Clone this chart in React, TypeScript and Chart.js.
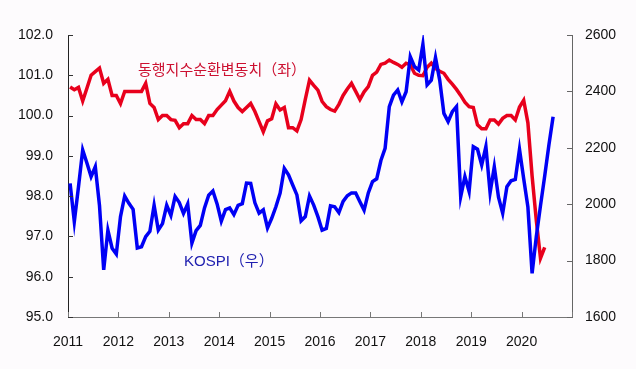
import React, { useEffect, useRef } from "react";
import { Chart, registerables } from "chart.js";

Chart.register(...registerables);

// Monthly data, first value = January 2011
const START_YEAR = 2011;

// 동행지수순환변동치 (left axis), Jan 2011 – Jun 2020
const coincidentIndex: number[] = [
  100.71, 100.64, 100.7, 100.36, 100.68, 101.0, 101.09, 101.18, 100.8, 100.9, 100.5, 100.5,
  100.3, 100.6, 100.6, 100.6, 100.6, 100.6, 100.8, 100.3, 100.2, 99.9, 100.0, 100.0,
  99.9, 99.88, 99.7, 99.8, 99.8, 100.0, 99.9, 99.9, 99.8, 100.0, 100.0, 100.15,
  100.26, 100.37, 100.6, 100.36, 100.2, 100.1, 100.2, 100.3, 100.1, 99.85, 99.6, 99.87,
  99.92, 100.29, 100.14, 100.2, 99.7, 99.7, 99.62, 99.9, 100.4, 100.88, 100.75, 100.63,
  100.35, 100.22, 100.15, 100.11, 100.28, 100.5, 100.66, 100.8, 100.6, 100.4, 100.59, 100.72,
  101.0, 101.08, 101.27, 101.3, 101.38, 101.32, 101.27, 101.2, 101.3, 101.26, 101.05, 101.0,
  100.99, 101.2, 101.3, 101.17, 101.1, 101.05, 100.9, 100.78, 100.65, 100.5, 100.33, 100.22,
  100.2, 99.77, 99.67, 99.67, 99.89, 99.89, 99.79, 99.93, 100.0, 100.0, 99.89, 100.21,
  100.38, 99.82, 98.5, 97.4, 96.46, 96.73,
];

// KOSPI (right axis), Jan 2011 – Aug 2020
const kospi: number[] = [
  2074, 1938, 2062, 2192, 2146, 2098, 2133, 1995, 1767, 1908, 1844, 1823,
  1956, 2029, 2003, 1982, 1845, 1849, 1885, 1904, 1996, 1908, 1931, 1996,
  1960, 2027, 2006, 1967, 2001, 1862, 1906, 1925, 1987, 2032, 2047, 2001,
  1940, 1981, 1987, 1963, 1996, 2002, 2075, 2074, 2005, 1968, 1980, 1916,
  1950, 1991, 2039, 2127, 2104, 2068, 2033, 1941, 1956, 2029, 1997, 1956,
  1908, 1914, 1994, 1991, 1970, 2010, 2030, 2040, 2040, 2009, 1979, 2040,
  2080, 2090, 2155, 2198, 2346, 2387, 2405, 2363, 2399, 2523, 2488, 2476,
  2567, 2423, 2440, 2520, 2440, 2322, 2293, 2328, 2346, 2027, 2098, 2045,
  2204, 2195, 2139, 2204, 2041, 2133, 2025, 1968, 2062, 2083, 2088, 2195,
  2090, 1990, 1755, 1885, 1995, 2100, 2210, 2310,
];

const YEAR_TICKS: number[] = [2011, 2012, 2013, 2014, 2015, 2016, 2017, 2018, 2019, 2020, 2021];
const LEFT_TICKS: number[] = [95, 96, 97, 98, 99, 100, 101, 102];
const RIGHT_TICKS: number[] = [1600, 1800, 2000, 2200, 2400, 2600];

const RED_LABEL = "동행지수순환변동치（좌）";
const BLUE_LABEL = "KOSPI（우）";

const toPoints = (arr: number[]) =>
  arr.map((v, i) => ({ x: START_YEAR + (i + 0.5) / 12, y: v }));

const bgPlugin = {
  id: "bg",
  beforeDraw(chart: any) {
    const ctx = chart.ctx;
    ctx.save();
    ctx.fillStyle = "#fdfbfd";
    ctx.fillRect(0, 0, chart.width, chart.height);
    ctx.restore();
  },
};

const inwardTicks = {
  id: "inwardTicks",
  afterDraw(chart: any) {
    const ctx = chart.ctx;
    const { left, right, bottom } = chart.chartArea;
    const L = 5;
    ctx.save();
    ctx.lineWidth = 1;
    const x = chart.scales.x;
    ctx.strokeStyle = "#777";
    YEAR_TICKS.forEach((v) => {
      const px = Math.round(x.getPixelForValue(v)) + 0.5;
      ctx.beginPath();
      ctx.moveTo(px, bottom);
      ctx.lineTo(px, bottom - L);
      ctx.stroke();
    });
    const y = chart.scales.y;
    ctx.strokeStyle = "#333";
    LEFT_TICKS.forEach((v) => {
      const py = Math.round(y.getPixelForValue(v)) + 0.5;
      ctx.beginPath();
      ctx.moveTo(left, py);
      ctx.lineTo(left + L, py);
      ctx.stroke();
    });
    const y1 = chart.scales.y1;
    ctx.strokeStyle = "#666";
    RIGHT_TICKS.forEach((v) => {
      const py = Math.round(y1.getPixelForValue(v)) + 0.5;
      ctx.beginPath();
      ctx.moveTo(right, py);
      ctx.lineTo(right - L, py);
      ctx.stroke();
    });
    ctx.restore();
  },
};

const labelsPlugin = {
  id: "seriesLabels",
  afterDraw(chart: any) {
    const ctx = chart.ctx;
    ctx.save();
    ctx.textBaseline = "middle";
    ctx.textAlign = "left";
    ctx.font = "15px 'Noto Sans CJK KR', sans-serif";
    ctx.fillStyle = "#cc1030";
    ctx.fillText(RED_LABEL, 138, 69);
    ctx.font = "15px 'Liberation Sans', 'Noto Sans CJK KR', sans-serif";
    ctx.fillStyle = "#2020b0";
    ctx.fillText(BLUE_LABEL, 184, 262);
    ctx.restore();
  },
};

export default function App() {
  const ref = useRef<HTMLCanvasElement | null>(null);

  useEffect(() => {
    document.body.style.margin = "0";
    if (!ref.current) return;
    Chart.defaults.font.family = "'Liberation Sans', Arial, sans-serif";
    const chart = new Chart(ref.current, {
      type: "line",
      data: {
        datasets: [
          {
            label: "KOSPI",
            data: toPoints(kospi),
            yAxisID: "y1",
            borderColor: "#0000f5",
            borderWidth: 3.5,
            pointRadius: 0,
            tension: 0,
            order: 0,
          },
          {
            label: "동행지수순환변동치",
            data: toPoints(coincidentIndex),
            yAxisID: "y",
            borderColor: "#e8001c",
            borderWidth: 3.5,
            pointRadius: 0,
            tension: 0,
            order: 1,
          },
        ],
      },
      options: {
        animation: false,
        responsive: false,
        devicePixelRatio: 1,
        parsing: false as any,
        layout: { padding: { top: 35, left: 0, right: 0, bottom: 0 } },
        plugins: { legend: { display: false }, tooltip: { enabled: false } },
        scales: {
          x: {
            type: "linear",
            min: 2011,
            max: 2021,
            afterBuildTicks: (s: any) => {
              s.ticks = YEAR_TICKS.map((v) => ({ value: v }));
            },
            ticks: {
              autoSkip: false,
              maxRotation: 0,
              padding: 17,
              color: "#111",
              font: { size: 14 },
              callback: (v: any) => (v === 2021 ? "" : String(v)),
            },
            grid: { display: false, drawTicks: false },
            border: { display: true, color: "#777", width: 1 },
            afterFit: (s: any) => {
              s.height = 52;
            },
          },
          y: {
            position: "left",
            min: 95,
            max: 102,
            afterBuildTicks: (s: any) => {
              s.ticks = LEFT_TICKS.map((v) => ({ value: v }));
            },
            ticks: {
              padding: 15,
              color: "#111",
              font: { size: 14 },
              callback: (v: any) => Number(v).toFixed(1),
            },
            grid: { display: false, drawTicks: false },
            border: { display: true, color: "#222", width: 1 },
            afterFit: (s: any) => {
              s.width = 68;
            },
          },
          y1: {
            position: "right",
            min: 1600,
            max: 2600,
            afterBuildTicks: (s: any) => {
              s.ticks = RIGHT_TICKS.map((v) => ({ value: v }));
            },
            ticks: {
              padding: 13,
              color: "#111",
              font: { size: 14 },
              callback: (v: any) => String(v),
            },
            grid: { display: false, drawTicks: false },
            border: { display: true, color: "#666", width: 1 },
            afterFit: (s: any) => {
              s.width = 64;
            },
          },
        },
      },
      plugins: [bgPlugin, inwardTicks, labelsPlugin],
    });
    return () => chart.destroy();
  }, []);

  return (
    <div style={{ width: 636, height: 369 }}>
      <canvas ref={ref} width={636} height={369} />
    </div>
  );
}
